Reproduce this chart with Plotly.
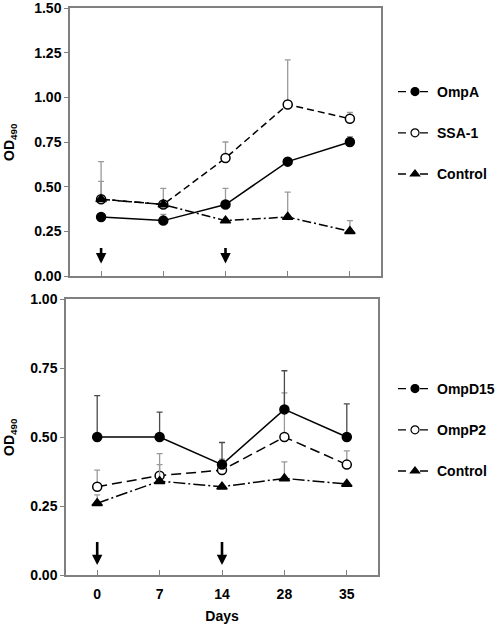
import plotly.graph_objects as go

# ---------------- data ----------------
days = ["0", "7", "14", "28", "35"]

# top panel
ompa = [0.33, 0.31, 0.40, 0.64, 0.75]
ompa_err = [0.0, 0.035, 0.09, 0.0, 0.03]
ssa1 = [0.43, 0.40, 0.66, 0.96, 0.88]
ssa1_err = [0.21, 0.09, 0.09, 0.25, 0.035]
ctrl_top = [0.43, 0.40, 0.31, 0.33, 0.25]
ctrl_top_err = [0.10, 0.0, 0.0, 0.14, 0.06]

# bottom panel
ompd15 = [0.50, 0.50, 0.40, 0.60, 0.50]
ompd15_err = [0.15, 0.09, 0.08, 0.14, 0.12]
ompp2 = [0.32, 0.36, 0.38, 0.50, 0.40]
ompp2_err = [0.06, 0.08, 0.04, 0.16, 0.05]
ctrl_bot = [0.26, 0.34, 0.32, 0.35, 0.33]
ctrl_bot_err = [0.03, 0.06, 0.0, 0.06, 0.0]

arrow_days = ["0", "14"]

FONT = "Liberation Sans, Arial, Helvetica, sans-serif"
AX = "#808080"
ERR_LIGHT = "#9a9a9a"
ERR_DARK = "#4a4a4a"

fig = go.Figure()


def add_series(x, y, err, name, symbol, fill, dash, xa, ya, errcol, legend, rank):
    fig.add_trace(go.Scatter(
        x=x, y=y, mode="lines+markers", xaxis=xa, yaxis=ya, showlegend=False,
        line=dict(color="black", width=1.5, dash=dash),
        marker=dict(symbol=symbol, size=9, color=fill, line=dict(color="black", width=1.5)),
        error_y=dict(type="data", symmetric=False, array=err,
                     arrayminus=[0] * len(err), color=errcol, thickness=1.3, width=3),
        hoverinfo="skip",
    ))
    # legend entry
    fig.add_trace(go.Scatter(
        x=[None], y=[None], mode="lines+markers", xaxis=xa, yaxis=ya, name=name,
        legend=legend, legendgroup=legend + name, legendrank=rank,
        line=dict(color="black", width=1.3, dash="8px,14px"),
        marker=dict(symbol=symbol, size=8, color=fill, line=dict(color="black", width=1.2)),
    ))


# top panel (SSA-1 drawn first so filled markers sit on top)
add_series(days, ssa1, ssa1_err, "SSA-1", "circle", "white", "7px,4px", "x", "y", ERR_LIGHT, "legend", 2)
add_series(days, ompa, ompa_err, "OmpA", "circle", "black", "solid", "x", "y", ERR_LIGHT, "legend", 1)
add_series(days, ctrl_top, ctrl_top_err, "Control", "triangle-up", "black", "9px,3px,2px,3px", "x", "y", ERR_LIGHT, "legend", 3)

# bottom panel
add_series(days, ompp2, ompp2_err, "OmpP2", "circle", "white", "10px,5px", "x2", "y2", ERR_LIGHT, "legend2", 2)
add_series(days, ompd15, ompd15_err, "OmpD15", "circle", "black", "solid", "x2", "y2", ERR_DARK, "legend2", 1)
add_series(days, ctrl_bot, ctrl_bot_err, "Control", "triangle-up", "black", "12px,3px,2px,3px", "x2", "y2", ERR_LIGHT, "legend2", 3)

H = 624.0
W = 500.0

# arrows (immunisation days) - category index positions
annotations = []
for d in arrow_days:
    i = days.index(d)
    annotations.append(dict(x=i, y=0.07, xref="x", yref="y", ax=i, ay=0.165,
                            axref="x", ayref="y", showarrow=True, text="",
                            arrowhead=2, arrowsize=0.8, arrowwidth=2.6, arrowcolor="black"))
    annotations.append(dict(x=i, y=0.036, xref="x2", yref="y2", ax=i, ay=0.125,
                            axref="x2", ayref="y2", showarrow=True, text="",
                            arrowhead=2, arrowsize=0.8, arrowwidth=2.6, arrowcolor="black"))

# y-axis titles
for yc in [(8 + 276) / 2, (299 + 575) / 2]:
    annotations.append(dict(x=10 / W, y=1 - yc / H, xref="paper", yref="paper",
                            text="<b>OD<sub>490</sub></b>", textangle=-90, showarrow=False,
                            xanchor="center", yanchor="middle",
                            font=dict(family=FONT, size=14, color="black")))

common_x = dict(type="category", range=[-0.5, 4.5], showgrid=False, zeroline=False,
                showline=True, linecolor=AX, linewidth=1.5, mirror=True,
                ticks="inside", ticklen=5, tickcolor=AX, tickwidth=1, automargin=False,
                ticklabeloverflow="allow",
                tickfont=dict(family=FONT, size=14, color="black", weight="bold"))
common_y = dict(showgrid=False, zeroline=False, showline=True, linecolor=AX, linewidth=1.5,
                mirror=True, ticks="outside", ticklen=4, tickcolor=AX, tickwidth=1,
                automargin=False, ticklabeloverflow="allow",
                tickfont=dict(family=FONT, size=14, color="black", weight="bold"),
                tickformat=".2f", dtick=0.25)

leg_common = dict(font=dict(family=FONT, size=14, color="black", weight="bold"),
                  bgcolor="rgba(0,0,0,0)", borderwidth=0, traceorder="grouped",
                  x=393 / W, xanchor="left", yanchor="middle", itemwidth=34)

fig.update_layout(
    width=500, height=624,
    margin=dict(l=0, r=0, t=0, b=0),
    paper_bgcolor="white", plot_bgcolor="white",
    font=dict(family=FONT, color="black"),
    xaxis=dict(common_x, domain=[70 / W, 381 / W], anchor="y", showticklabels=False),
    yaxis=dict(common_y, domain=[1 - 276 / H, 1 - 8 / H], anchor="x", range=[0, 1.5]),
    xaxis2=dict(common_x, domain=[66 / W, 378 / W], anchor="y2", ticklabelstandoff=5,
                title=dict(text="<b>Days</b>", standoff=11,
                           font=dict(family=FONT, size=14, color="black"))),
    yaxis2=dict(common_y, domain=[1 - 575 / H, 1 - 299 / H], anchor="x2", range=[0, 1.0]),
    legend=dict(leg_common, y=1 - 133 / H, tracegroupgap=20),
    legend2=dict(leg_common, y=1 - 430 / H, tracegroupgap=20),
    annotations=annotations,
    showlegend=True,
)

# remove the browser's default 8px body margin so the figure sits at the page origin
fig.write_html("out.html", config={"displayModeBar": False},
               post_script="document.body.style.margin='0px';")
